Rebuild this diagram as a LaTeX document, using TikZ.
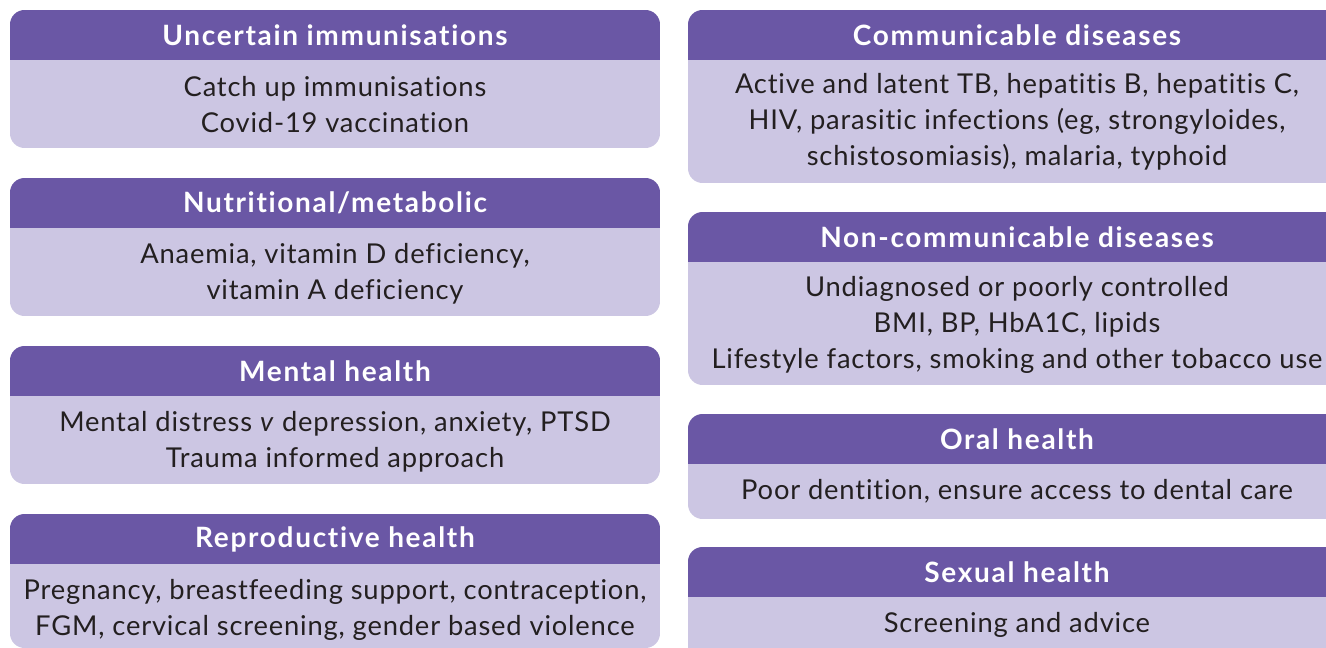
\documentclass[tikz,border=0pt]{standalone}
\usepackage{fontspec}
\setmainfont{Lato}
\newfontfamily\bodyf[LetterSpace=3,Ligatures=CommonOff]{Lato}
\newfontfamily\headf[LetterSpace=6,Ligatures=CommonOff]{Lato}
\definecolor{hdr}{HTML}{6A57A5}
\definecolor{bodyc}{HTML}{CCC6E3}
\definecolor{txt}{HTML}{231F20}
\newcommand\cardbox[5]{%
  \begin{scope}
    \clip[rounded corners=11pt] (#1,#3) rectangle (#2,#5);
    \fill[bodyc] (#1,#3) rectangle (#2,#5);
    \fill[hdr] (#1,#3) rectangle (#2,#4);
  \end{scope}}
\begin{document}
\begin{tikzpicture}[x=0.75pt,y=-0.75pt,
  head/.style={text=white,font=\headf\fontsize{21}{27}\selectfont\bfseries,inner sep=0pt,anchor=center},
  body/.style={text=txt,font=\bodyf\fontsize{20.5}{27}\selectfont,align=center,inner sep=0pt,anchor=center,yshift=-1.2pt}]
\useasboundingbox (0,0) rectangle (1326,647);
\clip (0,0) rectangle (1326,647);
\fill[white] (0,0) rectangle (1326,647);
% left column
\cardbox{10}{660}{10}{60}{148}
\cardbox{10}{660}{178}{228}{316}
\cardbox{10}{660}{346}{396}{484}
\cardbox{10}{660}{514}{564}{648}
% right column
\cardbox{688}{1346}{10}{60}{183}
\cardbox{688}{1346}{212}{262}{385}
\cardbox{688}{1346}{414}{464}{519}
\cardbox{688}{1346}{547}{597}{680}
% left texts
\node[head] (h1) at (335,35) {Uncertain immunisations};
\node[body] (b1) at (335,103) {Catch up immunisations\\Covid-19 vaccination};
\node[head] (h2) at (335,203) {Nutritional/metabolic};
\node[body] (b2) at (335,272) {Anaemia, vitamin D deficiency,\\vitamin A deficiency};
\node[head] (h3) at (335,371) {Mental health};
\node[body] (b3) at (335,440) {Mental distress \textit{v} depression, anxiety, PTSD\\Trauma informed approach};
\node[head] (h4) at (335,539) {Reproductive health};
\node[body] (b4) at (335,608.5) {Pregnancy, breastfeeding support, contraception,\\FGM, cervical screening, gender based violence};
% right texts
\node[head] (h5) at (1017,35) {Communicable diseases};
\node[body] (b5) at (1017,120.5) {Active and latent TB, hepatitis B, hepatitis C,\\HIV, parasitic infections (eg, strongyloides,\\schistosomiasis), malaria, typhoid};
\node[head] (h6) at (1017,237) {Non-communicable diseases};
\node[body] (b6) at (1017,323.5) {Undiagnosed or poorly controlled\\BMI, BP, HbA1C, lipids\\Lifestyle factors, smoking and other tobacco use};
\node[head] (h7) at (1017,439) {Oral health};
\node[body] (b7) at (1017,490) {Poor dentition, ensure access to dental care};
\node[head] (h8) at (1017,572) {Sexual health};
\node[body] (b8) at (1017,623) {Screening and advice};
\end{tikzpicture}
\end{document}
